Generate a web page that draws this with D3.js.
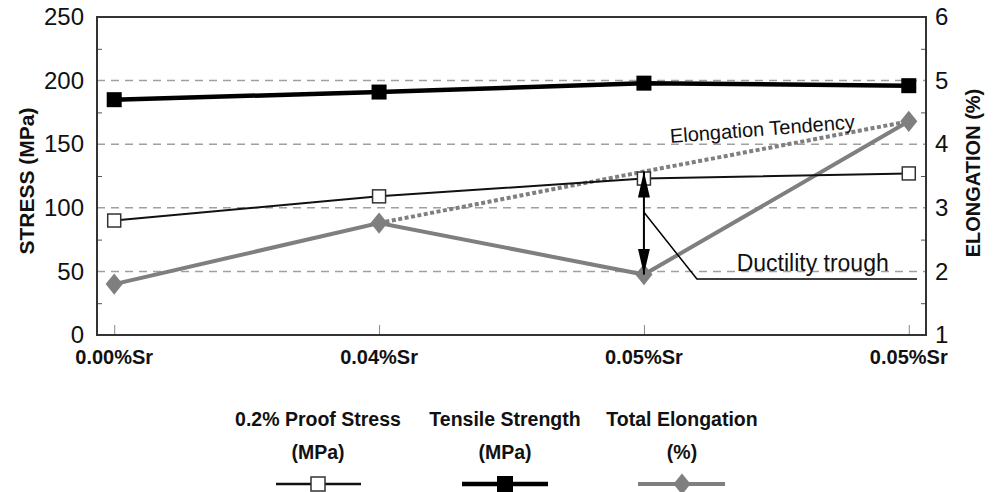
<!DOCTYPE html>
<html><head><meta charset="utf-8">
<script src="https://cdn.jsdelivr.net/npm/d3@7"></script>
<style>
html,body{margin:0;padding:0;background:#fff;}
svg{display:block;font-family:"Liberation Sans",Arial,sans-serif;}
</style></head>
<body><svg id="chart" width="995" height="492"></svg>
<script>
const categories = ["0.00%Sr", "0.04%Sr", "0.05%Sr", "0.05%Sr"];
const proofStress = [90, 109, 123, 127];
const tensileStrength = [185, 191, 198, 196];
const totalElongation = [1.8, 2.76, 1.95, 4.36];
const elongationTendency = [null, 2.76, 3.57, 4.36];
const stressTicks = [0, 50, 100, 150, 200, 250];
const elongTicks = [1, 2, 3, 4, 5, 6];
const legendNames = [["0.2% Proof Stress", "(MPa)"], ["Tensile Strength", "(MPa)"], ["Total Elongation", "(%)"]];

const svg = d3.select("#chart");
const L = 97, R = 926, T = 17, B = 335;
const gray = "#7f7f7f";

const x = d3.scalePoint().domain(d3.range(categories.length)).range([L, R]).padding(0.065);
const y = d3.scaleLinear().domain([0, 250]).range([B, T]);
const y2 = d3.scaleLinear().domain([1, 6]).range([B, T]);

// gridlines
svg.append("g").selectAll("line").data(stressTicks.filter(d => d > 0 && d < 250)).join("line")
  .attr("x1", L).attr("x2", R).attr("y1", d => y(d)).attr("y2", d => y(d))
  .attr("stroke", "#a0a0a0").attr("stroke-width", 1.5).attr("stroke-dasharray", "8,6");

// left axis
const gL = svg.append("g").attr("transform", `translate(${L},0)`)
  .call(d3.axisLeft(y).tickValues(stressTicks).tickSize(0).tickPadding(13));
gL.select(".domain").remove();
gL.selectAll("text").attr("font-size", 24).attr("fill", "#111").attr("font-family", "Liberation Sans, Arial, sans-serif");
const gLm = svg.append("g").attr("transform", `translate(${L},0)`)
  .call(d3.axisRight(y).tickValues(d3.range(25, 250, 50)).tickSize(5).tickFormat(""));
gLm.select(".domain").remove();
gLm.selectAll("line").attr("stroke", "#555");

// right axis
const gR = svg.append("g").attr("transform", `translate(${R},0)`)
  .call(d3.axisRight(y2).tickValues(elongTicks).tickSize(0).tickPadding(9).tickFormat(d3.format("d")));
gR.select(".domain").remove();
gR.selectAll("text").attr("font-size", 24).attr("fill", "#111").attr("font-family", "Liberation Sans, Arial, sans-serif");
const gRm = svg.append("g").attr("transform", `translate(${R},0)`)
  .call(d3.axisLeft(y2).tickValues(d3.range(1.5, 6, 1)).tickSize(5).tickFormat(""));
gRm.select(".domain").remove();
gRm.selectAll("line").attr("stroke", "#555");

// bottom axis
const gB = svg.append("g").attr("transform", `translate(0,${B})`)
  .call(d3.axisTop(x).tickSize(10).tickFormat(""));
gB.select(".domain").remove();
gB.selectAll("line").attr("stroke", "#888");
svg.append("g").selectAll("text").data(categories).join("text")
  .attr("x", (d, i) => x(i)).attr("y", 364).attr("text-anchor", "middle")
  .attr("font-size", 20).attr("font-weight", "bold").attr("fill", "#111").text(d => d);

// frame
svg.append("rect").attr("x", L).attr("y", T).attr("width", R - L).attr("height", B - T)
  .attr("fill", "none").attr("stroke", "#333").attr("stroke-width", 2);

// axis titles
svg.append("text").attr("transform", `translate(34,${(T + B) / 2 + 5}) rotate(-90)`)
  .attr("text-anchor", "middle").attr("font-size", 21).attr("font-weight", "bold").attr("fill", "#111").text("STRESS (MPa)");
svg.append("text").attr("transform", `translate(980,${(T + B) / 2 - 3}) rotate(-90)`)
  .attr("text-anchor", "middle").attr("font-size", 20).attr("font-weight", "bold").attr("fill", "#111").text("ELONGATION (%)");

// tendency dotted line
const tendLine = d3.line().defined(d => d != null).x((d, i) => x(i)).y(d => y2(d));
svg.append("path").datum(elongationTendency).attr("d", tendLine)
  .attr("fill", "none").attr("stroke", gray).attr("stroke-width", 4).attr("stroke-dasharray", "4,2.5");

// series
const lineS = d3.line().x((d, i) => x(i)).y(d => y(d));
const lineE = d3.line().x((d, i) => x(i)).y(d => y2(d));

svg.append("path").datum(totalElongation).attr("d", lineE)
  .attr("fill", "none").attr("stroke", gray).attr("stroke-width", 4);
svg.append("path").datum(proofStress).attr("d", lineS)
  .attr("fill", "none").attr("stroke", "#111").attr("stroke-width", 2);
svg.append("path").datum(tensileStrength).attr("d", lineS)
  .attr("fill", "none").attr("stroke", "#000").attr("stroke-width", 4.5);

// markers
const sq = 13;
svg.append("g").selectAll("rect").data(proofStress).join("rect")
  .attr("x", (d, i) => x(i) - sq / 2).attr("y", d => y(d) - sq / 2).attr("width", sq).attr("height", sq)
  .attr("fill", "#fff").attr("stroke", "#333").attr("stroke-width", 1.5);
svg.append("g").selectAll("rect").data(tensileStrength).join("rect")
  .attr("x", (d, i) => x(i) - 7.5).attr("y", d => y(d) - 7.5).attr("width", 15).attr("height", 15)
  .attr("fill", "#000");
const diamond = d3.symbol().type(d3.symbolDiamond).size(130);
svg.append("g").selectAll("path").data(totalElongation).join("path")
  .attr("transform", (d, i) => `translate(${x(i)},${y2(d)}) scale(1.4,1)`)
  .attr("d", diamond).attr("fill", gray);

// annotation arrow (tendency -> trough)
const defs = svg.append("defs");
defs.append("marker").attr("id", "ah").attr("viewBox", "0 0 26 12").attr("refX", 26).attr("refY", 6)
  .attr("markerWidth", 26).attr("markerHeight", 12).attr("markerUnits", "userSpaceOnUse").attr("orient", "auto-start-reverse")
  .append("path").attr("d", "M0,0 L26,6 L0,12 Z").attr("fill", "#000");
const ax = x(2);
svg.append("line").attr("x1", ax).attr("x2", ax)
  .attr("y1", y2(elongationTendency[2])).attr("y2", y2(totalElongation[2]))
  .attr("stroke", "#000").attr("stroke-width", 2)
  .attr("marker-start", "url(#ah)").attr("marker-end", "url(#ah)");

// ductility trough leader
const step = x.step();
svg.append("path")
  .attr("d", d3.line()([[ax, y2(2.93)], [ax + 0.2 * step, y2(1.88)], [R - 9, y2(1.88)]]))
  .attr("fill", "none").attr("stroke", "#000").attr("stroke-width", 1.5);
svg.append("text").attr("x", ax + 0.35 * step).attr("y", 271)
  .attr("font-size", 23).attr("fill", "#111").text("Ductility trough");
svg.append("text").attr("transform", `translate(${x(2) + 0.1 * step},143) rotate(-4.5)`)
  .attr("font-size", 20).attr("fill", "#111").text("Elongation Tendency");

// legend
const legX = [318, 505, 682];
const lg = svg.append("g");
legendNames.forEach((n, i) => {
  lg.append("text").attr("x", legX[i]).attr("y", 426).attr("text-anchor", "middle")
    .attr("font-size", 19.5).attr("font-weight", "bold").attr("fill", "#111").text(n[0]);
  lg.append("text").attr("x", legX[i]).attr("y", 459).attr("text-anchor", "middle")
    .attr("font-size", 19.5).attr("font-weight", "bold").attr("fill", "#111").text(n[1]);
});
const ly = 484;
lg.append("line").attr("x1", legX[0] - 42).attr("x2", legX[0] + 43).attr("y1", ly).attr("y2", ly).attr("stroke", "#111").attr("stroke-width", 2.5);
lg.append("rect").attr("x", legX[0] - 7).attr("y", ly - 7).attr("width", 14).attr("height", 14).attr("fill", "#fff").attr("stroke", "#333").attr("stroke-width", 1.5);
lg.append("line").attr("x1", legX[1] - 43).attr("x2", legX[1] + 43).attr("y1", ly).attr("y2", ly).attr("stroke", "#000").attr("stroke-width", 4.5);
lg.append("rect").attr("x", legX[1] - 8).attr("y", ly - 8).attr("width", 16).attr("height", 16).attr("fill", "#000");
lg.append("line").attr("x1", legX[2] - 44).attr("x2", legX[2] + 43).attr("y1", ly).attr("y2", ly).attr("stroke", gray).attr("stroke-width", 4);
lg.append("path").attr("transform", `translate(${legX[2]},${ly}) scale(1.4,1)`).attr("d", diamond).attr("fill", gray);
</script></body></html>
